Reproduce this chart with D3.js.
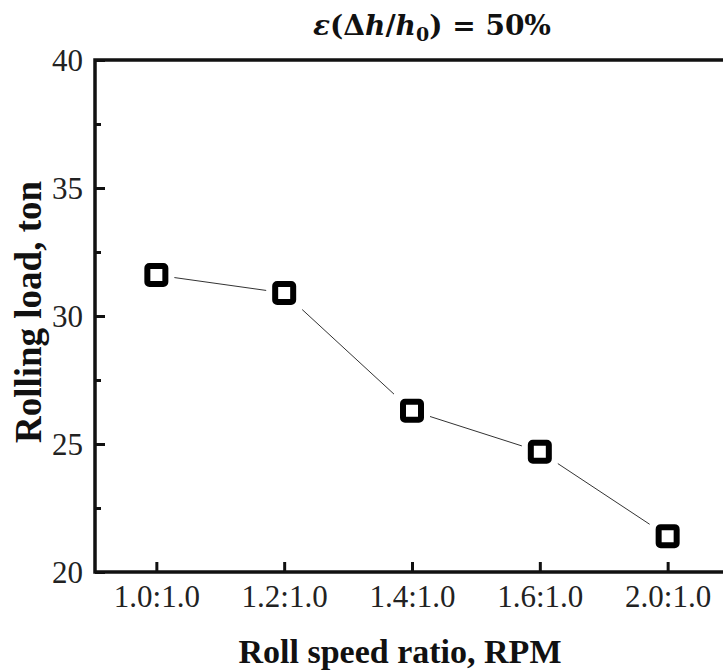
<!DOCTYPE html>
<html>
<head>
<meta charset="utf-8">
<script src="https://cdn.jsdelivr.net/npm/d3@7"></script>
<style>
    body { margin: 0; background: #fff; }
    text { font-family: "Liberation Serif", "Times New Roman", serif; }
</style>
</head>
<body>
<svg id="chart"></svg>
<script>
// data
const ratios = ["1.0:1.0", "1.2:1.0", "1.4:1.0", "1.6:1.0", "2.0:1.0"];
const loads = [31.6, 30.9, 26.3, 24.7, 21.4];
const yTicks = [20, 25, 30, 35, 40];
const yMinorTicks = [22.5, 27.5, 32.5, 37.5];

const width = 723, height = 671;
const margin = { top: 60, right: -6, bottom: 99, left: 95 };

let svg = d3.select("#chart")
    .attr("width", width)
    .attr("height", height);

let x = d3.scalePoint()
    .domain(ratios)
    .range([margin.left, width - margin.right])
    .padding(0.48);

let y = d3.scaleLinear()
    .domain([20, 40])
    .range([height - margin.bottom, margin.top]);

// frame (right side falls outside the picture)
svg.append("rect")
    .attr("x", margin.left)
    .attr("y", margin.top)
    .attr("width", width - margin.right - margin.left)
    .attr("height", y(20) - y(40))
    .attr("fill", "none")
    .attr("stroke", "#111")
    .attr("stroke-width", 3.5);

// y axis
let yAxis = svg.append("g")
    .attr("transform", `translate(${margin.left},0)`)
    .call(d3.axisRight(y).tickValues(yTicks).tickSize(10).tickFormat(d3.format("d")));
yAxis.select(".domain").remove();
yAxis.selectAll(".tick line").attr("stroke", "#111").attr("stroke-width", 3);
yAxis.selectAll(".tick text")
    .attr("x", -12)
    .attr("text-anchor", "end")
    .attr("dy", "0.34em")
    .attr("fill", "#222")
    .style("font-size", "31px");

svg.append("g")
    .attr("transform", `translate(${margin.left},0)`)
    .call(d3.axisRight(y).tickValues(yMinorTicks).tickSize(6).tickFormat(""))
    .call(g => g.select(".domain").remove())
    .selectAll(".tick line").attr("stroke", "#111").attr("stroke-width", 3);

// x axis, ticks pointing up
let xAxis = svg.append("g")
    .attr("transform", `translate(0,${y(20)})`)
    .call(d3.axisTop(x).tickSize(10));
xAxis.select(".domain").remove();
xAxis.selectAll(".tick line").attr("stroke", "#111").attr("stroke-width", 3);
xAxis.selectAll(".tick text")
    .attr("y", 35)
    .attr("dy", 0)
    .attr("fill", "#222")
    .style("font-size", "31px");

// line
let line = d3.line()
    .x((d, i) => x(ratios[i]))
    .y(d => y(d));

svg.append("path")
    .datum(loads)
    .attr("d", line)
    .attr("fill", "none")
    .attr("stroke", "#333")
    .attr("stroke-width", 1);

// markers, with a white halo that leaves a gap in the line
const s = 18;
let markers = svg.append("g")
    .selectAll("g")
    .data(loads)
    .join("g")
    .attr("transform", (d, i) => `translate(${x(ratios[i])},${y(d)})`);

markers.append("rect")
    .attr("x", -s / 2 - 9)
    .attr("y", -s / 2 - 9)
    .attr("width", s + 18)
    .attr("height", s + 18)
    .attr("fill", "#fff");

markers.append("rect")
    .attr("x", -s / 2)
    .attr("y", -s / 2)
    .attr("width", s)
    .attr("height", s)
    .attr("rx", 2)
    .attr("fill", "#fff")
    .attr("stroke", "#000")
    .attr("stroke-width", 6);

// axis titles
svg.append("text")
    .attr("x", 400)
    .attr("y", 663)
    .attr("text-anchor", "middle")
    .style("font-size", "34px")
    .style("font-weight", "bold")
    .attr("fill", "#111")
    .text("Roll speed ratio, RPM");

svg.append("text")
    .attr("transform", `translate(41,312) rotate(-90)`)
    .attr("text-anchor", "middle")
    .style("font-size", "37px")
    .style("font-weight", "bold")
    .attr("fill", "#111")
    .text("Rolling load, ton");

// title
let title = svg.append("text")
    .attr("x", 432)
    .attr("y", 35)
    .attr("text-anchor", "middle")
    .style("font-family", "'DejaVu Serif', serif")
    .style("font-size", "28px")
    .style("font-weight", "bold")
    .attr("fill", "#111");
title.append("tspan").style("font-style", "italic").text("ε");
title.append("tspan").text("(Δ");
title.append("tspan").style("font-style", "italic").text("h");
title.append("tspan").text("/");
title.append("tspan").style("font-style", "italic").text("h");
title.append("tspan").attr("dy", 6).style("font-size", "19px").text("0");
title.append("tspan").attr("dy", -6).text(") = 50%");
</script>
</body>
</html>
